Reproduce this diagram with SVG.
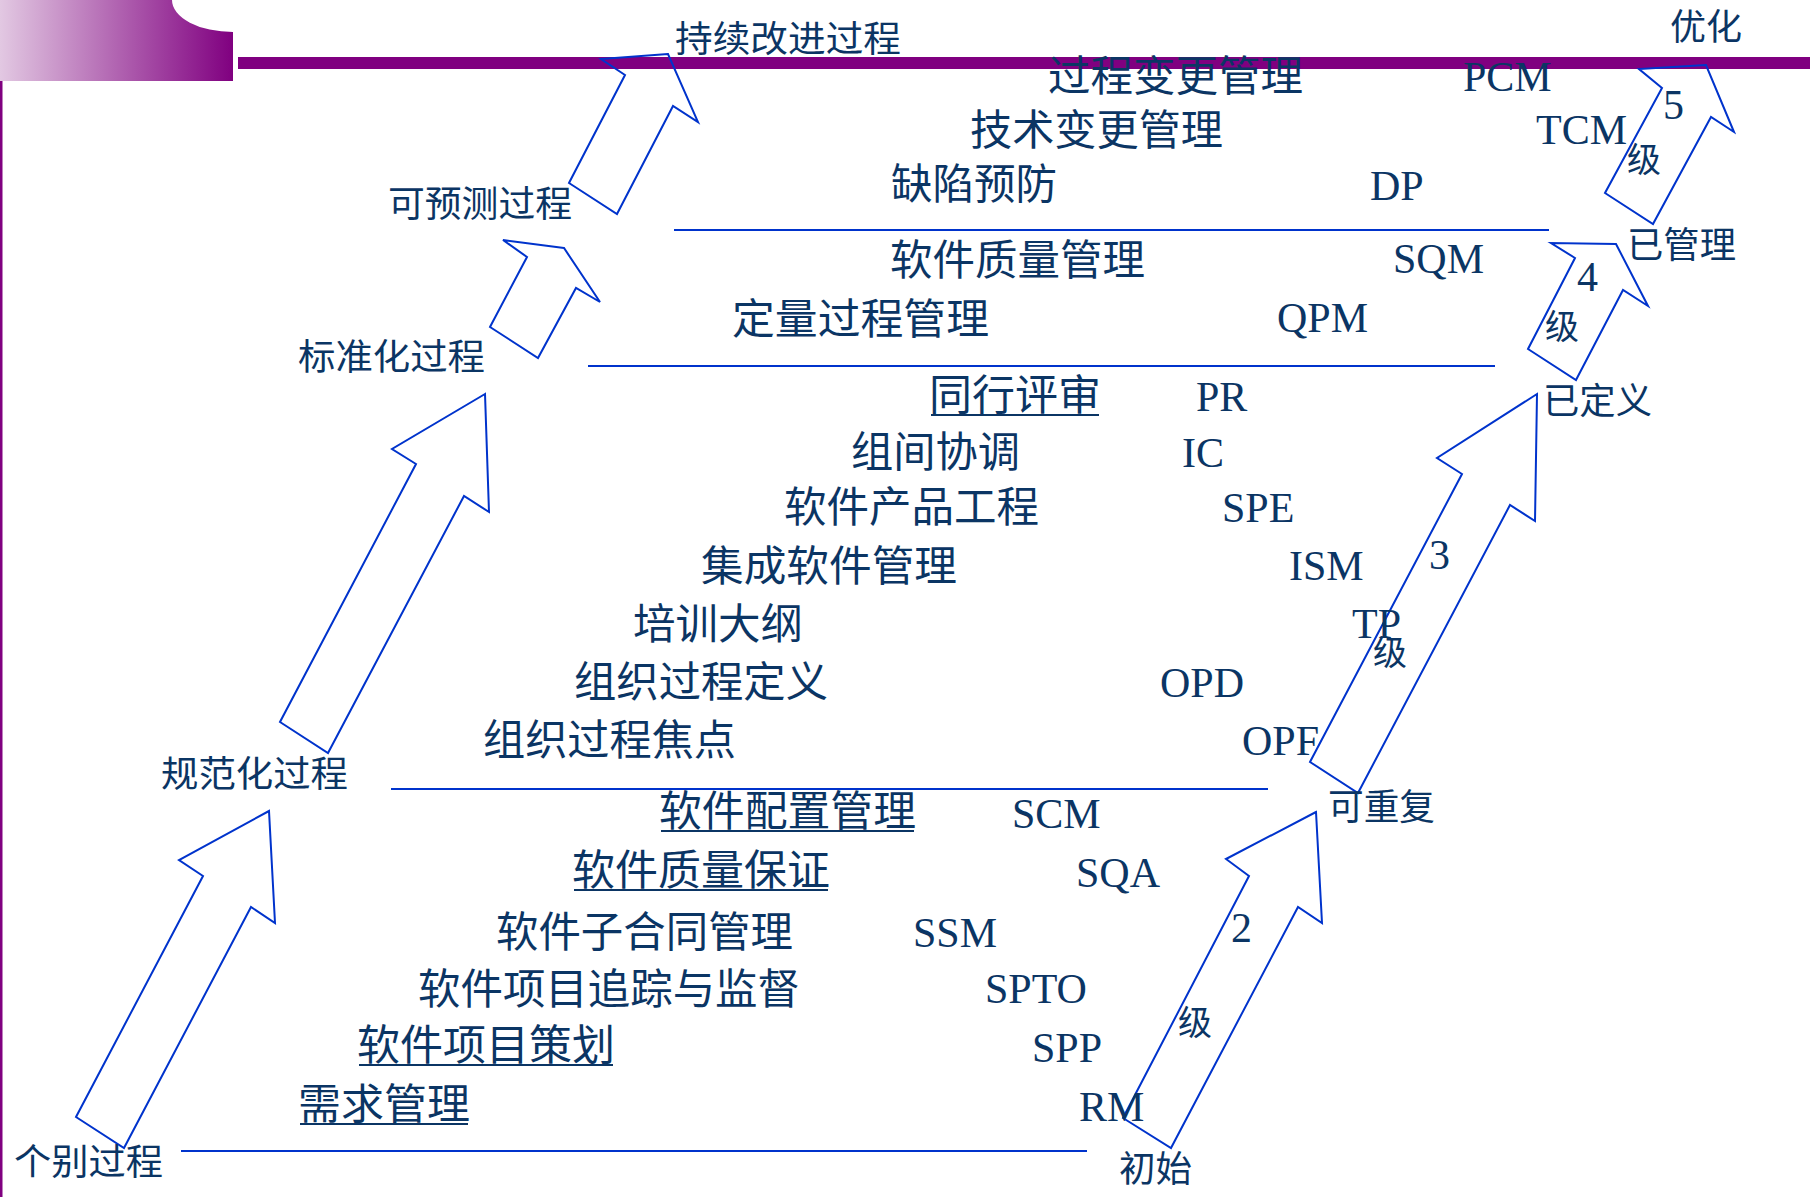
<svg xmlns="http://www.w3.org/2000/svg" width="1810" height="1197" viewBox="0 0 1810 1197">
<defs>
<linearGradient id="hg" x1="0" y1="0" x2="1" y2="0">
<stop offset="0" stop-color="#e2c8e2"/>
<stop offset="1" stop-color="#800080"/>
</linearGradient>
<style>
.arrow{fill:none;stroke:#0033cc;stroke-width:2;stroke-linejoin:miter}
.sep{stroke:#0033cc;stroke-width:2}
.ul{stroke:#0b3564;stroke-width:2}
.cn{font-family:"Noto Sans CJK SC","Noto Sans CJK JP",sans-serif;fill:#0b3564}
.big{font-size:42px}
.mid{font-size:36px}
.ji{font-size:34px}
.ab{font-family:"Liberation Serif","Times New Roman",serif;font-size:42px;fill:#0b3564}
.num{font-family:"Liberation Serif","Times New Roman",serif;font-size:42px;fill:#0b3564}
</style>
</defs>
<rect width="1810" height="1197" fill="#ffffff"/>
<g id="header">
<path d="M0,0 H172 A61 32 0 0 0 233 32 V81 H0 Z" fill="url(#hg)"/>
<rect x="238" y="57" width="1572" height="12" fill="#800080"/>
<rect x="0" y="81" width="2.5" height="1116" fill="#800080"/>
</g>
<g id="separators">
<line class="sep" x1="674" y1="230" x2="1549" y2="230"/>
<line class="sep" x1="588" y1="366" x2="1495" y2="366"/>
<line class="sep" x1="391" y1="789" x2="1268" y2="789"/>
<line class="sep" x1="181" y1="1151" x2="1087" y2="1151"/>
</g>
<g id="connectors">
<polygon class="arrow" points="269,811 179,860 203,876 76,1117 124,1148 251,907 275,923"/>
<polygon class="arrow" points="485,394 392,449 416,464 280,722 328,753 464,496 489,512"/>
<polygon class="arrow" points="564,248 503,240 527,257 490,327 538,358 576,288 600,302"/>
<polygon class="arrow" points="668,54 601,59 625,75 569,183 617,214 673,106 698,122"/>
<polygon class="arrow" points="1706,65 1639,69 1662,88 1605,193 1653,224 1711,117 1734,132"/>
<polygon class="arrow" points="1616,244 1551,243 1575,258 1528,349 1576,380 1623,290 1648,306"/>
<polygon class="arrow" points="1537,394 1437,458 1462,474 1310,762 1358,793 1510,505 1535,521"/>
<polygon class="arrow" points="1316,812 1226,859 1249,876 1123,1118 1171,1148 1298,907 1322,923"/>
</g>
<g id="stage-labels">
<text class="cn mid" x="675" y="52" textLength="226" lengthAdjust="spacingAndGlyphs">持续改进过程</text>
<text class="cn mid" x="388" y="217" textLength="184" lengthAdjust="spacingAndGlyphs">可预测过程</text>
<text class="cn mid" x="298" y="370" textLength="187" lengthAdjust="spacingAndGlyphs">标准化过程</text>
<text class="cn mid" x="161" y="787" textLength="187" lengthAdjust="spacingAndGlyphs">规范化过程</text>
<text class="cn mid" x="14" y="1175" textLength="149" lengthAdjust="spacingAndGlyphs">个别过程</text>
<text class="cn mid" x="1670" y="40" textLength="72" lengthAdjust="spacingAndGlyphs">优化</text>
<text class="cn mid" x="1627" y="258" textLength="109" lengthAdjust="spacingAndGlyphs">已管理</text>
<text class="cn mid" x="1543" y="414" textLength="109" lengthAdjust="spacingAndGlyphs">已定义</text>
<text class="cn mid" x="1328" y="820" textLength="107" lengthAdjust="spacingAndGlyphs">可重复</text>
<text class="cn mid" x="1119" y="1182" textLength="73" lengthAdjust="spacingAndGlyphs">初始</text>
</g>
<g id="level-numbers">
<text class="num" x="1663" y="119">5</text>
<text class="cn ji" x="1627" y="172">级</text>
<text class="num" x="1577" y="291">4</text>
<text class="cn ji" x="1545" y="339">级</text>
<text class="num" x="1429" y="569">3</text>
<text class="cn ji" x="1373" y="665">级</text>
<text class="num" x="1231" y="942">2</text>
<text class="cn ji" x="1178" y="1035">级</text>
</g>
<g id="level5">
<text class="cn big" x="1048" y="91" textLength="255" lengthAdjust="spacingAndGlyphs">过程变更管理</text>
<text class="ab" x="1463" y="91">PCM</text>
<text class="cn big" x="970" y="145" textLength="253" lengthAdjust="spacingAndGlyphs">技术变更管理</text>
<text class="ab" x="1536" y="144">TCM</text>
<text class="cn big" x="891" y="199" textLength="166" lengthAdjust="spacingAndGlyphs">缺陷预防</text>
<text class="ab" x="1370" y="200">DP</text>
</g>
<g id="level4">
<text class="cn big" x="890" y="275" textLength="255" lengthAdjust="spacingAndGlyphs">软件质量管理</text>
<text class="ab" x="1393" y="273">SQM</text>
<text class="cn big" x="732" y="334" textLength="257" lengthAdjust="spacingAndGlyphs">定量过程管理</text>
<text class="ab" x="1277" y="332">QPM</text>
</g>
<g id="level3">
<text class="cn big" x="929" y="410" textLength="172" lengthAdjust="spacingAndGlyphs">同行评审</text>
<line class="ul" x1="931" y1="415" x2="1099" y2="415"/>
<text class="ab" x="1196" y="411">PR</text>
<text class="cn big" x="851" y="467" textLength="169" lengthAdjust="spacingAndGlyphs">组间协调</text>
<text class="ab" x="1182" y="467">IC</text>
<text class="cn big" x="784" y="522" textLength="255" lengthAdjust="spacingAndGlyphs">软件产品工程</text>
<text class="ab" x="1222" y="522">SPE</text>
<text class="cn big" x="701" y="581" textLength="256" lengthAdjust="spacingAndGlyphs">集成软件管理</text>
<text class="ab" x="1289" y="580">ISM</text>
<text class="cn big" x="633" y="639" textLength="170" lengthAdjust="spacingAndGlyphs">培训大纲</text>
<text class="ab" x="1352" y="638">TP</text>
<text class="cn big" x="574" y="697" textLength="254" lengthAdjust="spacingAndGlyphs">组织过程定义</text>
<text class="ab" x="1160" y="697">OPD</text>
<text class="cn big" x="483" y="755" textLength="253" lengthAdjust="spacingAndGlyphs">组织过程焦点</text>
<text class="ab" x="1242" y="755">OPF</text>
</g>
<g id="level2">
<text class="cn big" x="659" y="826" textLength="257" lengthAdjust="spacingAndGlyphs">软件配置管理</text>
<line class="ul" x1="661" y1="831" x2="914" y2="831"/>
<text class="ab" x="1012" y="828">SCM</text>
<text class="cn big" x="572" y="885" textLength="258" lengthAdjust="spacingAndGlyphs">软件质量保证</text>
<line class="ul" x1="574" y1="890" x2="828" y2="890"/>
<text class="ab" x="1076" y="887">SQA</text>
<text class="cn big" x="496" y="947" textLength="297" lengthAdjust="spacingAndGlyphs">软件子合同管理</text>
<text class="ab" x="913" y="947">SSM</text>
<text class="cn big" x="418" y="1004" textLength="382" lengthAdjust="spacingAndGlyphs">软件项目追踪与监督</text>
<text class="ab" x="985" y="1003">SPTO</text>
<text class="cn big" x="357" y="1060" textLength="258" lengthAdjust="spacingAndGlyphs">软件项目策划</text>
<line class="ul" x1="359" y1="1065" x2="613" y2="1065"/>
<text class="ab" x="1032" y="1062">SPP</text>
<text class="cn big" x="298" y="1119" textLength="172" lengthAdjust="spacingAndGlyphs">需求管理</text>
<line class="ul" x1="300" y1="1124" x2="468" y2="1124"/>
<text class="ab" x="1079" y="1121">RM</text>
</g>
</svg>
